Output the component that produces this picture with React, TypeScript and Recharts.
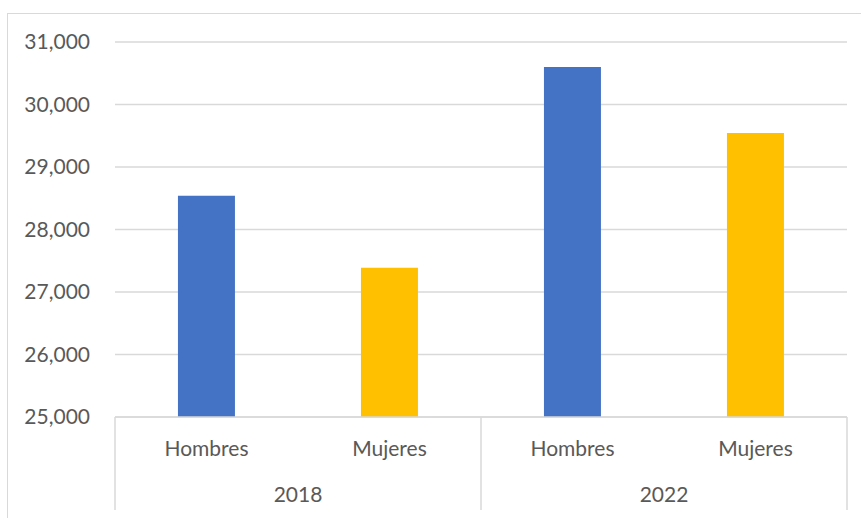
import React from 'react';
import { BarChart, Bar, XAxis, YAxis, CartesianGrid, Cell } from 'recharts';

const categories = ['Hombres', 'Mujeres', 'Hombres', 'Mujeres'];
const years = ['2018', '2018', '2022', '2022'];
const values = [28540, 27390, 30600, 29545];
const yTicks = [25000, 26000, 27000, 28000, 29000, 30000, 31000];
const seriesColors: Record<string, string> = { Hombres: '#4472C4', Mujeres: '#FFC000' };

const data = categories.map((c, i) => ({ name: c, year: years[i], value: values[i] }));

const FONT = 'Lato, "Open Sans", sans-serif';
const TEXT = '#595959';
const LINE = '#D9D9D9';
const AXIS_H = 93;

function CatTick(props: any) {
  const { x, y, payload, index, visibleTicksCount } = props;
  const half = payload && typeof payload.offset === 'number' && payload.offset > 0 ? payload.offset : 91.5;
  const count = visibleTicksCount || data.length;
  return (
    <g>
      <text x={x} y={y + 31} dy="0.36em" textAnchor="middle" fill={TEXT} fontFamily={FONT} fontSize={21}>
        {payload.value}
      </text>
      {index % 2 === 0 && (
        <>
          <line x1={x - half} x2={x - half} y1={y} y2={y + AXIS_H} stroke={LINE} strokeWidth={1.5} />
          <text x={x + half} y={y + 77} dy="0.36em" textAnchor="middle" fill={TEXT} fontFamily={FONT} fontSize={21}>
            {years[index]}
          </text>
        </>
      )}
      {index === count - 1 && (
        <line x1={x + half} x2={x + half} y1={y} y2={y + AXIS_H} stroke={LINE} strokeWidth={1.5} />
      )}
    </g>
  );
}

export default function App() {
  return (
    <div style={{ position: 'fixed', left: 0, top: 0, width: 861, height: 518, overflow: 'hidden', background: '#fff' }}>
      <div style={{ position: 'absolute', left: 7, top: 13, width: 900, height: 600, border: `1.5px solid ${LINE}`, boxSizing: 'border-box' }} />
      <div style={{ position: 'absolute', left: 0, top: 0 }}>
        <BarChart
          width={861}
          height={518}
          data={data}
          margin={{ top: 42, right: 14, bottom: 8, left: 0 }}
          barCategoryGap="34.4%"
        >
          <CartesianGrid vertical={false} stroke={LINE} strokeWidth={1.5} />
          <YAxis
            domain={[25000, 31000]}
            ticks={yTicks}
            width={115}
            axisLine={false}
            tickLine={false}
            tickSize={0}
            tickMargin={25}
            tickFormatter={(v: number) => v.toLocaleString('en-US')}
            tick={{ fill: TEXT, fontFamily: FONT, fontSize: 21 }}
          />
          <XAxis
            dataKey="name"
            height={AXIS_H}
            interval={0}
            tickLine={false}
            tickSize={0}
            tickMargin={0}
            axisLine={{ stroke: LINE, strokeWidth: 1.5 }}
            tick={<CatTick />}
          />
          <Bar dataKey="value" isAnimationActive={false}>
            {data.map((d, i) => (
              <Cell key={i} fill={seriesColors[d.name]} />
            ))}
          </Bar>
        </BarChart>
      </div>
    </div>
  );
}
